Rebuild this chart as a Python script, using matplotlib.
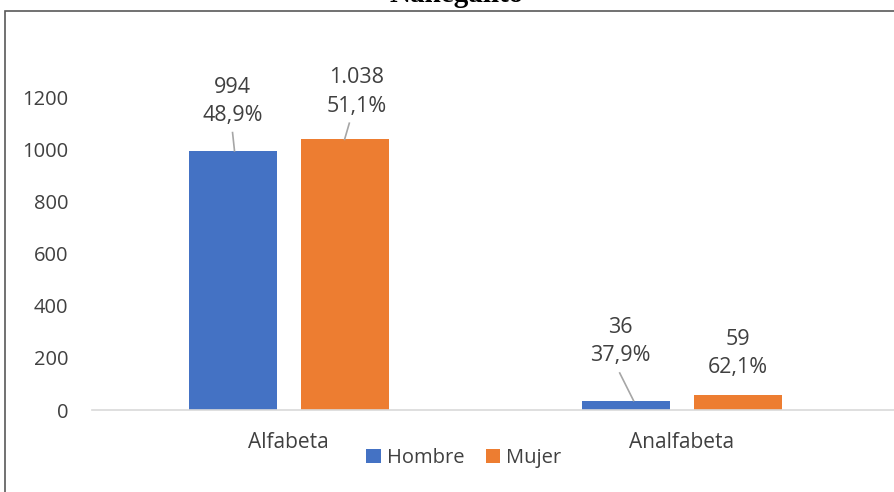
import matplotlib.pyplot as plt
from matplotlib.patches import Rectangle
import numpy as np

# data
categorias = ['Alfabeta', 'Analfabeta']
hombre = [994, 36]
mujer = [1038, 59]
hombre_txt = ['994\n48,9%', '36\n37,9%']
mujer_txt = ['1.038\n51,1%', '59\n62,1%']

plt.rcParams['font.family'] = ['Open Sans', 'DejaVu Sans']
gris = '#404040'
azul = '#4472C4'
naranja = '#ED7D31'

fig = plt.figure(figsize=(8.94, 4.92), dpi=100)
ax = fig.add_axes([92 / 894, 82 / 492, (894 - 92) / 894, 365 / 492])

x = np.arange(len(categorias))
w = 0.224
off = 0.1425
b1 = ax.bar(x - off, hombre, w, color=azul, label='Hombre', zorder=2)
b2 = ax.bar(x + off, mujer, w, color=naranja, label='Mujer', zorder=2)

ax.set_xlim(-0.5, 1.54)
ax.set_ylim(0, 1400)
ax.set_yticks(range(0, 1201, 200))
ax.set_xticks(x)
ax.set_xticklabels(categorias)
ax.tick_params(axis='y', length=0, pad=17, labelsize=14.5, labelcolor=gris)
ax.tick_params(axis='x', length=0, pad=16, labelsize=15, labelcolor=gris)
for s in ['top', 'right', 'left']:
    ax.spines[s].set_visible(False)
ax.spines['bottom'].set_color('#D9D9D9')
ax.spines['bottom'].set_linewidth(1.2)

# etiquetas con lineas guia (desplazamiento x, altura texto, guia si/no)
etiquetas = [
    (b1[0], hombre_txt[0], 0.0, 190, True),
    (b2[0], mujer_txt[0], 0.03, 182, True),
    (b1[1], hombre_txt[1], -0.013, 226, True),
    (b2[1], mujer_txt[1], 0.0, 158, False),
]
for bar, txt, dx, dy, guia in etiquetas:
    cx = bar.get_x() + bar.get_width() / 2
    top = bar.get_height()
    tx = cx + dx
    ty = top + dy
    ax.text(tx, ty, txt, ha='center', va='center', fontsize=15.5,
            color=gris, linespacing=1.45, zorder=3)
    if guia:
        y0 = ty - 120
        ax.plot([tx - dx * 0.6 - (0.01 if dx < 0 else 0), cx + (0.02 if dx < 0 else 0.005 if dx == 0 else 0)],
                [y0, top], color='#A6A6A6', lw=1.2, zorder=3)

leg = fig.legend(loc='center', bbox_to_anchor=(464 / 894, 1 - 458 / 492), ncol=2,
                 frameon=False, fontsize=14.5, handlelength=0.7, handleheight=0.7,
                 handletextpad=0.3, columnspacing=1.1, labelcolor=gris)

# marco y titulo recortado
fig.add_artist(Rectangle((5 / 894, -0.2), 2, 1.2 - 11 / 492, transform=fig.transFigure,
                         fill=False, ec='#595959', lw=1.2))
fig.text(457 / 894, 1 - 2 / 492, 'Nanegalito', ha='center', va='baseline',
         fontsize=21, fontweight='bold', family='Liberation Serif', color='black')

fig.savefig('out.png', dpi=100)
